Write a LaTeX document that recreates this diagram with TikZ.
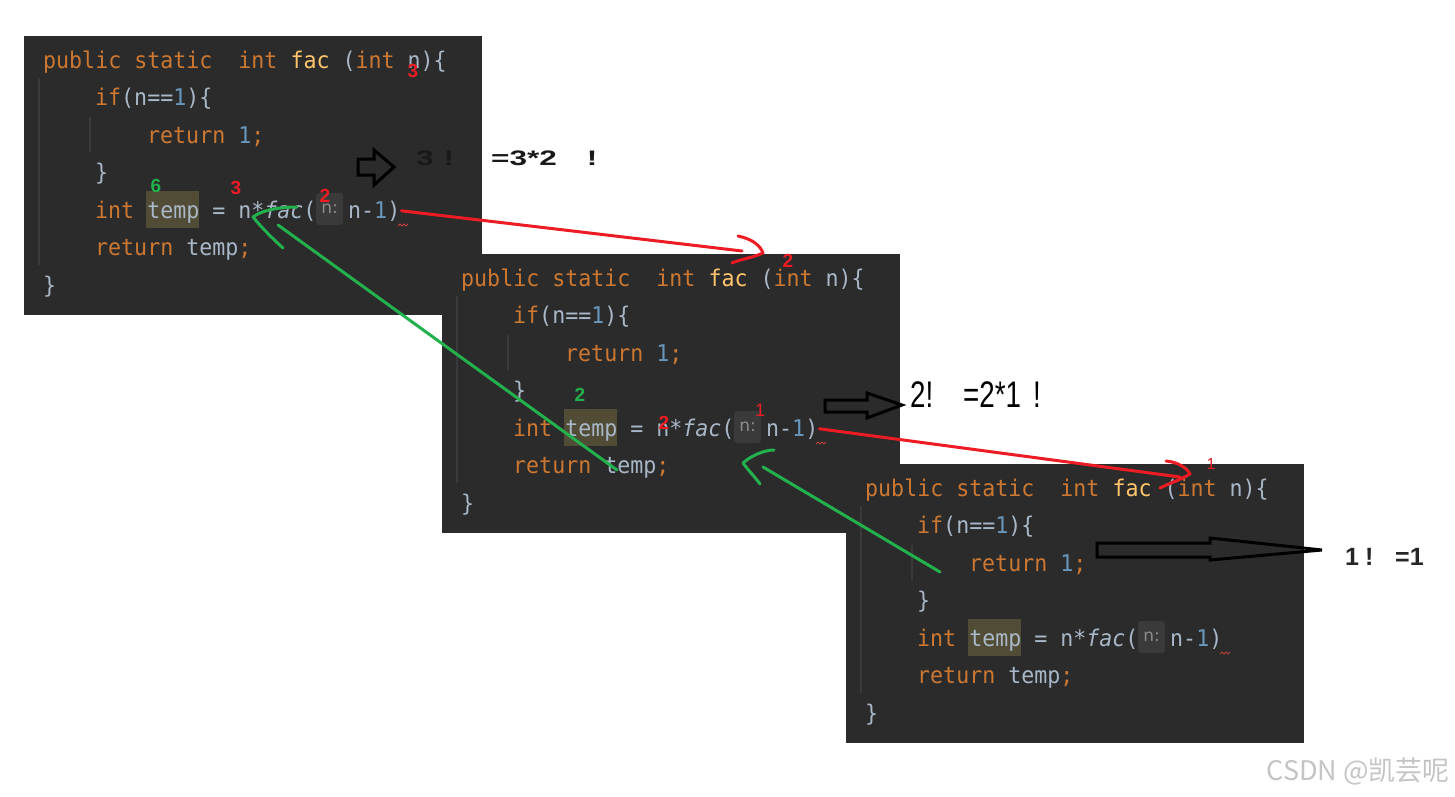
\documentclass[tikz,border=0pt]{standalone}
\usepackage{fontspec}
\setmainfont{Liberation Sans}
\newfontfamily\codefont[FakeStretch=0.94]{DejaVu Sans Mono}
\newfontfamily\hintfont{DejaVu Sans}
\newfontfamily\cjkfont{Noto Sans CJK SC}
\newfontfamily\widefont[FakeStretch=1.5]{Liberation Sans}
\newfontfamily\narrowfont[FakeStretch=0.75]{Liberation Sans}
\definecolor{codebg}{HTML}{2B2B2B}
\definecolor{kwc}{HTML}{CC7832}
\definecolor{fnc}{HTML}{FFC66D}
\definecolor{txtc}{HTML}{A9B7C6}
\definecolor{numc}{HTML}{6897BB}
\definecolor{hlc}{HTML}{504C36}
\definecolor{hintbg}{HTML}{3A3A3A}
\definecolor{hintfg}{HTML}{8C8C8C}
\definecolor{guidec}{HTML}{3A3A3A}
\definecolor{wavec}{HTML}{BC3F3C}
\definecolor{pred}{HTML}{ED1C24}
\definecolor{pgreen}{HTML}{22B14C}
\definecolor{wmark}{HTML}{C4C4C4}
\newcommand\ckw[1]{\textcolor{kwc}{#1}}
\newcommand\cfn[1]{\textcolor{fnc}{#1}}
\newcommand\cnum[1]{\textcolor{numc}{#1}}
\tikzset{
  code/.style={font={\codefont\fontsize{23}{28}\selectfont}, text=txtc, inner sep=0pt, anchor=base west},
  hint/.style={font={\hintfont\fontsize{17}{19}\selectfont}, text=hintfg, inner sep=0pt},
  guide/.style={draw=guidec, line width=1.5pt},
  redmark/.style={font={\bfseries\fontsize{19}{21}\selectfont}, text=pred, inner sep=0pt},
  greenmark/.style={font={\bfseries\fontsize{19}{21}\selectfont}, text=pgreen, inner sep=0pt},
  redline/.style={draw=pred, line width=3pt, line cap=round, line join=round},
  greenline/.style={draw=pgreen, line width=3pt, line cap=round, line join=round},
  hollow/.style={draw=black, line width=3pt, line join=miter},
  codeblk/.pic={
    \fill[codebg] (0,0) rectangle (458,279);
    \draw[guide] (15,42) -- (15,229);
    \draw[guide] (66,81) -- (66,116);
    \fill[hlc] (122,155) rectangle (175,192);
    \fill[hintbg, rounded corners=3pt] (292,157) rectangle (319,189);
    \node[code] (-l1) at (19,32) {\ckw{public static}\ \ \ckw{int} \cfn{fac} (\ckw{int} n)\{};
    \node[code] (-l2) at (71,69.5) {\ckw{if}(n==\cnum{1})\{};
    \node[code] (-l3) at (123,107) {\ckw{return} \cnum{1}\ckw{;}};
    \node[code] (-l4) at (71,144.5) {\}};
    \node[code] (-l5a) at (71,182) {\ckw{int} temp = n*\textit{fac}(};
    \node[hint] (-hint) at (305.5,173) {n:};
    \node[code] (-l5b) at (324,182) {n-\cnum{1})};
    \node[code] (-l6) at (71,219.5) {\ckw{return} temp\ckw{;}};
    \node[code] (-l7) at (19,257) {\}};
    \draw[wavec, line width=0.8pt] (374,190) -- ++(2,-2) -- ++(2,2) -- ++(2,-2) -- ++(2,2) -- ++(2,-2);
  }
}
\begin{document}
\begin{tikzpicture}[x=1pt,y=-1pt]
\useasboundingbox (0,0) rectangle (1455,796);
\fill[white] (0,0) rectangle (1455,796);
% code blocks
\pic (b1) at (24,36) {codeblk};
\pic (b2) at (442,254) {codeblk};
\pic (b3) at (846,464) {codeblk};
% black hollow arrows and results
\draw[hollow] (358,159) -- (374,159) -- (374,150) -- (394,167) -- (374,185) -- (374,175) -- (358,175) -- cycle;
\node[font={\widefont\bfseries\fontsize{21}{24}\selectfont}, text=black!90, inner sep=0pt, anchor=base west] (f3a) at (416,165) {3\hspace{10pt}!};
\node[font={\widefont\bfseries\fontsize{21}{24}\selectfont}, text=black!90, inner sep=0pt, anchor=base west] (f3b) at (491,165) {=3*2\hspace{30pt}!};
\draw[hollow] (825,400) -- (867,400) -- (867,393) -- (902,405) -- (867,418) -- (867,412) -- (825,412) -- cycle;
\node[font={\narrowfont\fontsize{37}{40}\selectfont}, text=black, inner sep=0pt, anchor=base west] (f2a) at (910,407) {2!};
\node[font={\narrowfont\fontsize{37}{40}\selectfont}, text=black, inner sep=0pt, anchor=base west] (f2b) at (963,407) {=2*1\hspace{12pt}!};
\draw[hollow] (1097,543) -- (1210,543) -- (1210,538) -- (1322,550) -- (1210,560) -- (1210,557) -- (1097,557) -- cycle;
\node[font={\bfseries\fontsize{25}{28}\selectfont}, text=black!85, inner sep=0pt, anchor=base west] (f1a) at (1345,565) {1\hspace{6pt}!};
\node[font={\bfseries\fontsize{25}{28}\selectfont}, text=black!85, inner sep=0pt, anchor=base west] (f1b) at (1395,565) {=1};
% red call arrows
\coordinate (r1e) at (742,251);
\coordinate (r1h) at (738,236);
\draw[redline] ([xshift=1pt]b1-l5b.east) -- (r1e);
\draw[redline] (r1h) .. controls (752,239) and (760,245) .. (763,253) .. controls (752,258) and (741,259) .. (732,263);
\coordinate (r2e) at (1180,477);
\coordinate (r2h) at (1166,461);
\draw[redline] ([xshift=1pt]b2-l5b.east) -- (r2e);
\draw[redline] (r2h) .. controls (1178,462) and (1187,468) .. (1190,474) .. controls (1180,480) and (1170,483) .. (1160,488);
% green return arrows
\coordinate (g1s) at (617,470);
\coordinate (g1e) at (278,225);
\draw[greenline] (g1s) -- (g1e);
\draw[greenline] (297,207) .. controls (280,207) and (262,210) .. (253,217) .. controls (262,228) and (272,238) .. (283,248);
\coordinate (g2s) at (940,572);
\coordinate (g2e) at (763,467);
\draw[greenline] (g2s) -- (g2e);
\draw[greenline] (774,450) .. controls (765,450) and (752,455) .. (743,463) .. controls (748,470) and (755,477) .. (760,484);
% step numbers
\node[redmark] (n1) at (413,71) {3};
\node[redmark] (n2) at (236,188) {3};
\node[redmark] (n3) at (325,196) {2};
\node[greenmark] (n4) at (156,186) {6};
\node[redmark] (n5) at (788,261) {2};
\node[greenmark] (n6) at (580,395) {2};
\node[redmark] (n7) at (664,423) {2};
\node[redmark, font={\fontsize{18}{20}\selectfont}] (n8) at (760,410) {1};
\node[redmark, font={\fontsize{16}{18}\selectfont}] (n9) at (1211,464) {1};
% watermark
\node[font={\cjkfont\fontsize{27}{30}\selectfont}, text=wmark, inner sep=0pt, anchor=base east] (wm) at (1450,780) {CSDN @凯芸呢};
\end{tikzpicture}
\end{document}
